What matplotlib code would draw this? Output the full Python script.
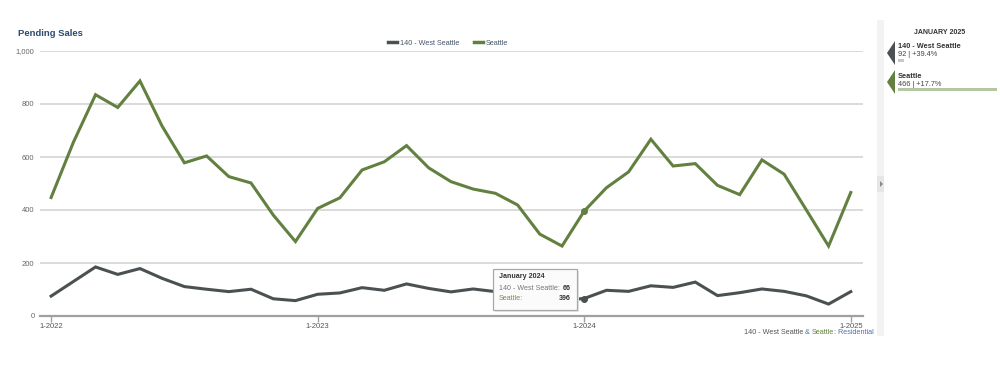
import numpy as np
import matplotlib.pyplot as plt
from matplotlib.lines import Line2D
from matplotlib.patches import Rectangle, Polygon

plt.rcParams['font.family'] = ['Liberation Sans', 'DejaVu Sans']

# data: monthly pending sales, Jan 2022 .. Jan 2025
months = ['1-2022', '2-2022', '3-2022', '4-2022', '5-2022', '6-2022', '7-2022', '8-2022',
          '9-2022', '10-2022', '11-2022', '12-2022', '1-2023', '2-2023', '3-2023', '4-2023',
          '5-2023', '6-2023', '7-2023', '8-2023', '9-2023', '10-2023', '11-2023', '12-2023',
          '1-2024', '2-2024', '3-2024', '4-2024', '5-2024', '6-2024', '7-2024', '8-2024',
          '9-2024', '10-2024', '11-2024', '12-2024', '1-2025']
west_seattle = [75, 130, 185, 157, 179, 142, 111, 101, 92, 101, 65, 58,
                82, 87, 107, 97, 121, 104, 91, 102, 92, 88, 72, 60,
                66, 97, 93, 114, 108, 128, 77, 88, 102, 93, 76, 45, 92]
seattle = [447, 655, 835, 787, 887, 716, 578, 604, 526, 502, 381, 281,
           406, 446, 551, 582, 643, 559, 507, 479, 463, 419, 309, 264,
           396, 484, 544, 667, 566, 575, 493, 458, 589, 535, 400, 264, 466]
series_names = ['140 - West Seattle', 'Seattle']
yticks = [0, 200, 400, 600, 800, 1000]
ytick_labels = ['0', '200', '400', '600', '800', '1,000']
xtick_idx = [0, 12, 24, 36]
hover_idx = 24

GRAY = '#4b5152'
GREEN = '#62803f'
NAVY = '#2b4a6f'
BLUE = '#4d74ad'
W, H = 1000, 383

def fx(px):
    return px / W

def fy(py):
    return 1 - py / H

fig = plt.figure(figsize=(10, 3.83), dpi=100)
ax = fig.add_axes([fx(40), fy(316), fx(863 - 40), (316 - 51) / H])

x = np.arange(len(months))
ax.plot(x, west_seattle, color=GRAY, lw=2.2, solid_joinstyle='miter', zorder=3)
ax.plot(x, seattle, color=GREEN, lw=2.2, solid_joinstyle='miter', zorder=3)
ax.plot([hover_idx], [west_seattle[hover_idx]], 'o', color=GRAY, ms=4, zorder=4)
ax.plot([hover_idx], [seattle[hover_idx]], 'o', color=GREEN, ms=4, zorder=4)

ax.set_xlim(-0.5, 36.55)
ax.set_ylim(0, 1000)
ax.set_yticks(yticks)
ax.set_yticklabels(ytick_labels)
ax.set_xticks(xtick_idx)
ax.set_xticklabels([months[i] for i in xtick_idx])
for s in ['top', 'right', 'left']:
    ax.spines[s].set_visible(False)
ax.spines['bottom'].set_color('#a0a0a0')
ax.spines['bottom'].set_linewidth(1.6)
ax.grid(axis='y', color='#d8d8d8', lw=1.3)
ax.set_axisbelow(True)
ax.tick_params(axis='y', length=0, labelsize=5.5, labelcolor='#666666', pad=4)
ax.tick_params(axis='x', length=4, width=1, color='#a0a0a0', labelsize=5.5,
               labelcolor='#555555', pad=1, direction='out')

# title
fig.text(fx(18), fy(33), 'Pending Sales', fontsize=6.8, fontweight='bold', color=NAVY, va='center')

# legend
handles = [Line2D([], [], color=GRAY, lw=2.5), Line2D([], [], color=GREEN, lw=2.5)]
leg = fig.legend(handles, series_names, loc='center', bbox_to_anchor=(fx(448), fy(43)),
                 ncol=2, frameon=False, fontsize=5.2, handlelength=1.3, handletextpad=0.4,
                 columnspacing=2.0)
for t in leg.get_texts():
    t.set_color('#45556a')

# tooltip
fig.add_artist(Rectangle((fx(495), fy(312)), fx(577 - 493), (310 - 269) / H,
                         transform=fig.transFigure, facecolor='#e6e6e6', edgecolor='none', zorder=4))
tip = Rectangle((fx(493), fy(310)), fx(577 - 493), (310 - 269) / H, transform=fig.transFigure,
                facecolor='#fbfbfb', edgecolor='#a8a8a8', lw=0.9, zorder=5)
fig.add_artist(tip)
fs_tip = 5.1
fig.text(fx(499), fy(277), 'January 2024', fontsize=fs_tip, fontweight='bold', color='#333333',
         va='center', zorder=6)
fig.text(fx(499), fy(288), series_names[0] + ':', fontsize=fs_tip, color='#777777', va='center', zorder=6)
fig.text(fx(571), fy(288), str(west_seattle[hover_idx]), fontsize=fs_tip, fontweight='bold',
         color='#333333', va='center', ha='right', zorder=6)
fig.text(fx(499), fy(299), series_names[1] + ':', fontsize=fs_tip, color='#6f9145', va='center', zorder=6)
fig.text(fx(571), fy(299), str(seattle[hover_idx]), fontsize=fs_tip, fontweight='bold',
         color='#333333', va='center', ha='right', zorder=6)

# footer with mixed colours
renderer = fig.canvas.get_renderer()
parts = [('140 - West Seattle ', '#555555'), ('& ', BLUE), ('Seattle', GREEN),
         (': Residential', BLUE)]
texts = []
for s, c in parts:
    texts.append(fig.text(0, fy(333), s, fontsize=5.2, color=c, va='center'))
widths = [t.get_window_extent(renderer).width for t in texts]
xpos = 874 - sum(widths)
for t, wd in zip(texts, widths):
    t.set_x(fx(xpos))
    xpos += wd

# side strip
fig.add_artist(Rectangle((fx(877), fy(336)), fx(7), (336 - 20) / H, transform=fig.transFigure,
                         facecolor='#f3f3f3', edgecolor='none'))
fig.add_artist(Rectangle((fx(877), fy(192)), fx(7), 16 / H, transform=fig.transFigure,
                         facecolor='#e6e6e6', edgecolor='none'))
fig.add_artist(Polygon([(fx(880), fy(181)), (fx(880), fy(187)), (fx(883), fy(184))],
                       closed=True, transform=fig.transFigure, facecolor='#888888', edgecolor='none'))

# right panel
last = len(months) - 1
fig.text(fx(940), fy(33), 'JANUARY 2025', fontsize=5, fontweight='bold', color='#333333',
         ha='center', va='center')
panel_vals = [west_seattle, seattle]
panel_colors = [GRAY, GREEN]
bar_colors = ['#c8c8c8', '#b5c6a2']
bar_widths = [6, 99]
tops = [41, 70]
for name, vals, col, bcol, bw, top in zip(series_names, panel_vals, panel_colors,
                                          bar_colors, bar_widths, tops):
    fig.add_artist(Polygon([(fx(895), fy(top)), (fx(887), fy(top + 12)), (fx(895), fy(top + 24))],
                           closed=True, transform=fig.transFigure, facecolor=col, edgecolor='none'))
    prev = vals[last - 12]
    pct = (vals[last] - prev) / prev * 100
    fig.text(fx(898), fy(top + 6), name, fontsize=5.3, fontweight='bold', color='#333333', va='center')
    fig.text(fx(898), fy(top + 14), f'{vals[last]} | {pct:+.1f}%', fontsize=5.3, color='#444444',
             va='center')
    fig.add_artist(Rectangle((fx(898), fy(top + 21)), fx(bw), 3.5 / H,
                             transform=fig.transFigure, facecolor=bcol, edgecolor='none'))

fig.savefig('out.png', dpi=100)
